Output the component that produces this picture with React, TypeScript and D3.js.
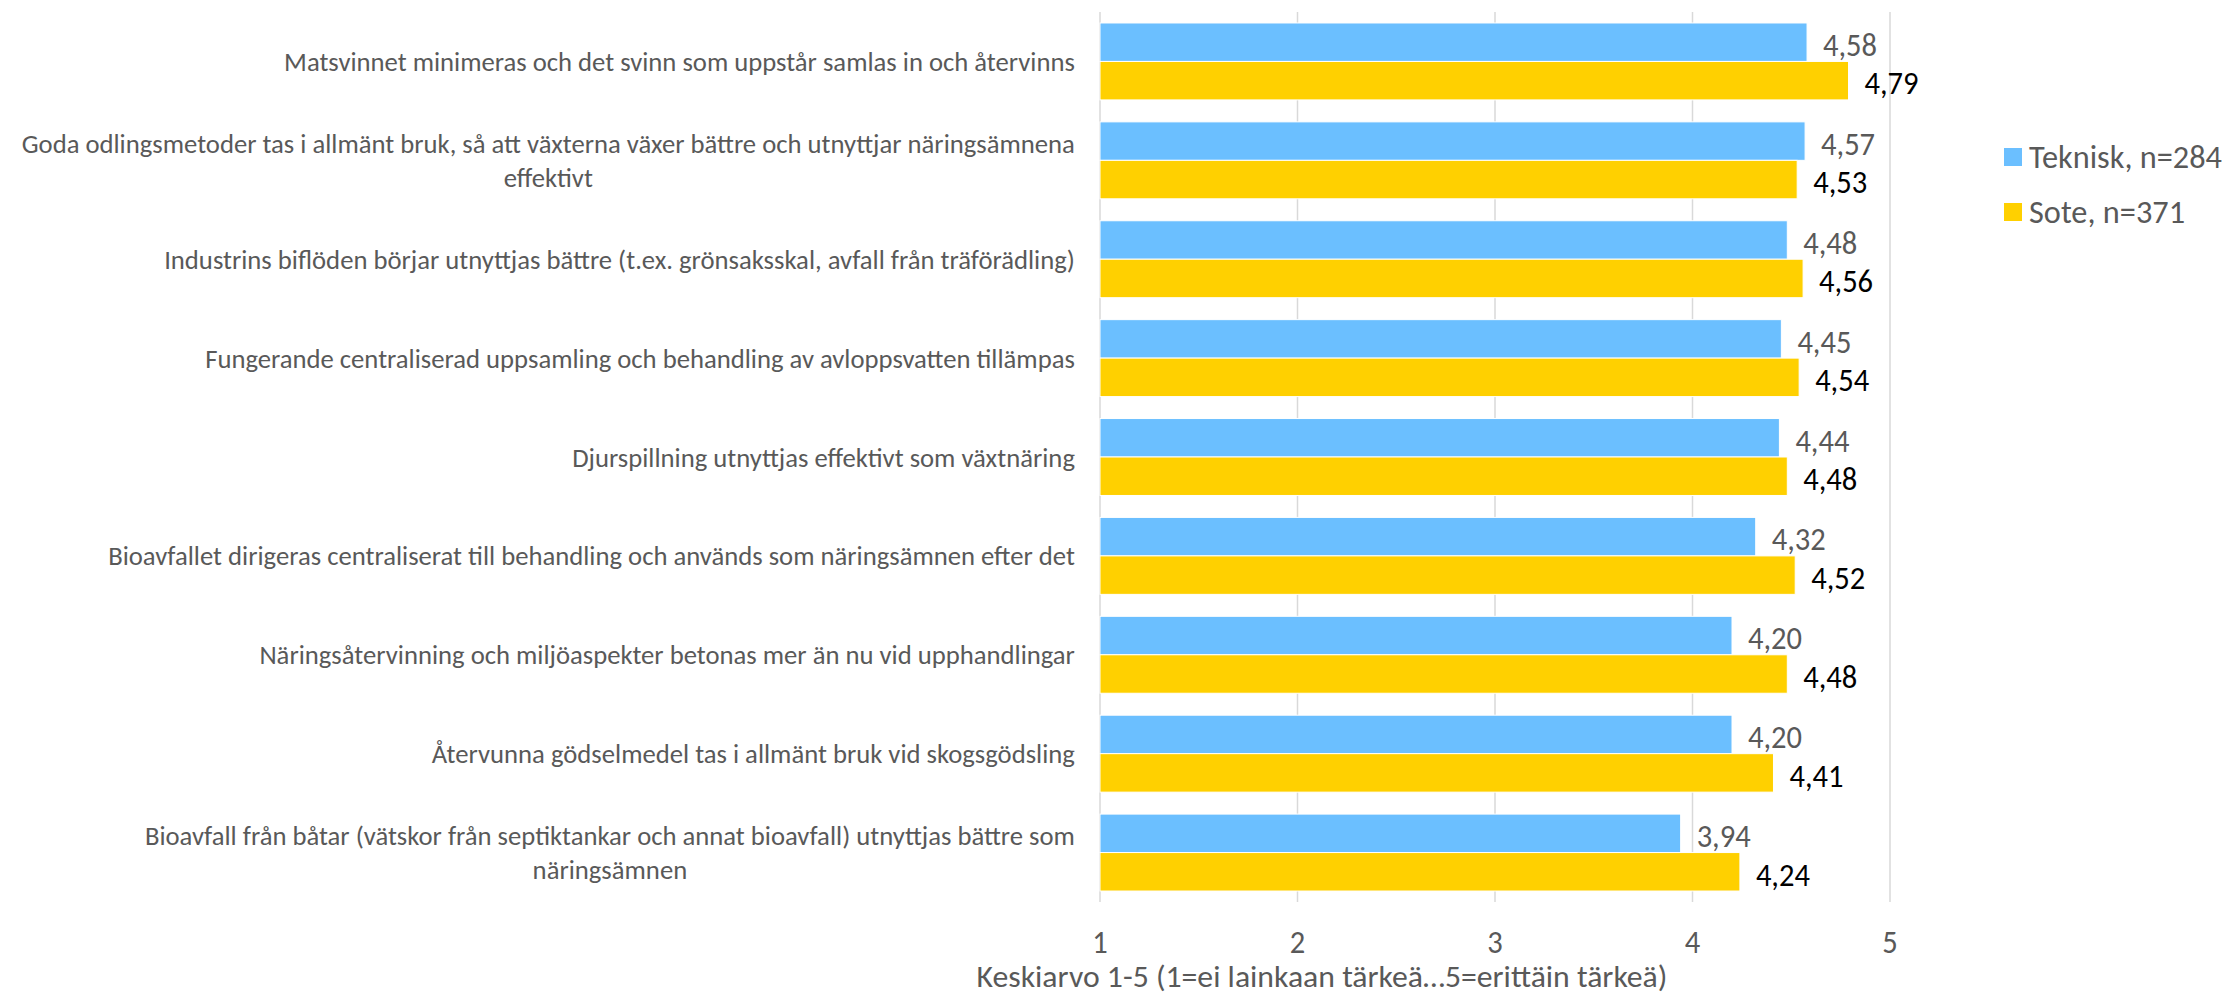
import { useEffect, useRef } from "react";
import * as d3 from "d3";

const categories = [
    "Matsvinnet minimeras och det svinn som uppstår samlas in och återvinns",
    "Goda odlingsmetoder tas i allmänt bruk, så att växterna växer bättre och utnyttjar näringsämnena\neffektivt",
    "Industrins biflöden börjar utnyttjas bättre (t.ex. grönsaksskal, avfall från träförädling)",
    "Fungerande centraliserad uppsamling och behandling av avloppsvatten tillämpas",
    "Djurspillning utnyttjas effektivt som växtnäring",
    "Bioavfallet dirigeras centraliserat till behandling och används som näringsämnen efter det",
    "Näringsåtervinning och miljöaspekter betonas mer än nu vid upphandlingar",
    "Återvunna gödselmedel tas i allmänt bruk vid skogsgödsling",
    "Bioavfall från båtar (vätskor från septiktankar och annat bioavfall) utnyttjas bättre som\nnäringsämnen",
];
const teknisk = [4.58, 4.57, 4.48, 4.45, 4.44, 4.32, 4.2, 4.2, 3.94];
const sote = [4.79, 4.53, 4.56, 4.54, 4.48, 4.52, 4.48, 4.41, 4.24];
const seriesNames = ["Teknisk, n=284", "Sote, n=371"];
const seriesColors = ["#6BBFFF", "#FFD000"];
const labelColors = ["#595959", "#000000"];
const ticks = [1, 2, 3, 4, 5];
const axisTitle = "Keskiarvo 1-5 (1=ei lainkaan tärkeä…5=erittäin tärkeä)";

const W = 2226;
const H = 997;
const FONT = "Carlito, Calibri, 'Liberation Sans Narrow', 'Open Sans', sans-serif";

export default function App() {
    const ref = useRef<SVGSVGElement | null>(null);

    useEffect(() => {
        const svg = d3.select(ref.current);
        svg.selectAll("*").remove();

        // no Calibri here: squeeze each kind of text to the width it has in the original
        const measure = (str: string, size: number) => {
            const t = svg
                .append("text")
                .attr("font-family", FONT)
                .attr("font-size", size)
                .text(str);
            const w = (t.node() as SVGTextElement).getComputedTextLength();
            t.remove();
            return w;
        };
        const fit = (target: number, str: string, size: number) => {
            const w = measure(str, size);
            return w > 0 ? target / w : 1;
        };
        const kCat = fit(791, categories[0], 27);
        const kVal = fit(54, "4,58", 32);
        const kLeg = fit(193, seriesNames[0], 32);
        const kTitle = fit(691, axisTitle, 32);

        const addText = (
            x: number,
            y: number,
            str: string,
            size: number,
            color: string,
            anchor: string,
            k: number
        ) =>
            svg
                .append("text")
                .attr("transform", `translate(${x},${y}) scale(${k},1)`)
                .attr("font-family", FONT)
                .attr("font-size", size)
                .attr("fill", color)
                .attr("text-anchor", anchor)
                .attr("dominant-baseline", "central")
                .text(str);

        const x = d3.scaleLinear().domain([1, 5]).range([1100, 1890]);
        const y = d3
            .scaleBand<number>()
            .domain(d3.range(categories.length))
            .range([12, 902])
            .paddingInner(0.222)
            .paddingOuter(0.111);
        const y1 = d3
            .scaleBand<number>()
            .domain([0, 1])
            .range([0, y.bandwidth()]);

        // gridlines
        svg.append("g")
            .selectAll("line")
            .data(ticks)
            .join("line")
            .attr("x1", (d) => x(d))
            .attr("x2", (d) => x(d))
            .attr("y1", 12)
            .attr("y2", 902)
            .attr("stroke", "#d9d9d9")
            .attr("stroke-width", 1.5);

        // bars + value labels
        const series = [teknisk, sote];
        series.forEach((vals, s) => {
            svg.append("g")
                .selectAll("rect")
                .data(vals)
                .join("rect")
                .attr("x", x(1))
                .attr("y", (_, i) => (y(i) ?? 0) + (y1(s) ?? 0))
                .attr("width", (d) => x(d) - x(1))
                .attr("height", y1.bandwidth())
                .attr("fill", seriesColors[s])
                .attr("stroke", "#ffffff")
                .attr("stroke-width", 1);

            vals.forEach((v, i) => {
                addText(
                    x(v) + 16,
                    (y(i) ?? 0) + (y1(s) ?? 0) + y1.bandwidth() / 2 + 2.5,
                    v.toFixed(2).replace(".", ","),
                    32,
                    labelColors[s],
                    "start",
                    kVal
                );
            });
        });

        // category labels, centred inside a box that ends at the axis
        const lineH = 33.5;
        categories.forEach((c, i) => {
            const lines = c.split("\n");
            const cy = (y(i) ?? 0) + y.bandwidth() / 2;
            const ly = (j: number) => cy + (j - (lines.length - 1) / 2) * lineH;
            const maxW = d3.max(lines, (ln) => measure(ln, 27)) ?? 0;
            const cx = 1075 - (maxW * kCat) / 2;
            lines.forEach((ln, j) =>
                addText(cx, ly(j), ln, 27, "#595959", "middle", kCat)
            );
        });

        // tick labels
        ticks.forEach((t) =>
            addText(x(t), 942, String(t), 32, "#595959", "middle", kVal)
        );

        // axis title
        addText(1322, 976, axisTitle, 31, "#595959", "middle", kTitle * 32 / 31);

        // legend
        seriesNames.forEach((name, s) => {
            const ly = 157 + s * 55;
            svg.append("rect")
                .attr("x", 2004)
                .attr("y", ly - 9)
                .attr("width", 18)
                .attr("height", 18)
                .attr("fill", seriesColors[s]);
            addText(2029, ly, name, 32, "#595959", "start", kLeg);
        });
    }, []);

    return (
        <svg
            ref={ref}
            width={W}
            height={H}
            style={{ position: "absolute", left: 0, top: 0, background: "#fff" }}
        />
    );
}
